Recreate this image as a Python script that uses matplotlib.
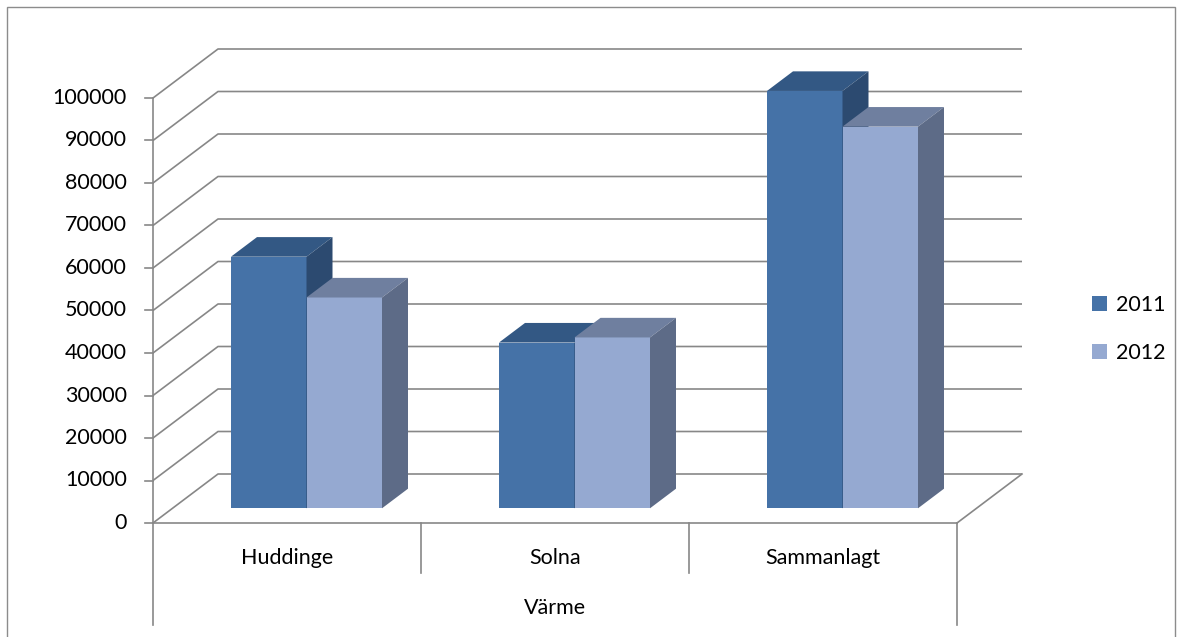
import matplotlib.pyplot as plt
from matplotlib.patches import Polygon, Rectangle

plt.rcParams['font.family'] = ['Lato', 'DejaVu Sans']

# data
categories = ['Huddinge', 'Solna', 'Sammanlagt']
group_label = 'Värme'
series = ['2011', '2012']
values_2011 = [59200, 39000, 98200]
values_2012 = [49600, 40200, 89800]
yticks = list(range(0, 100001, 10000))

W, H = 1182, 637
fig = plt.figure(figsize=(W / 100, H / 100), dpi=100)
fs = 15.5

# front floor: x 153..957 px, y 0 at 523 px, 100000 at 98 px
x0, x1, y0, y1 = 153, 957, 523, 98
ax = fig.add_axes([x0 / W, (H - y0) / H, (x1 - x0) / W, (y0 - y1) / H])
ax.set_xlim(0, 3)
ax.set_ylim(0, 100000)
ax.axis('off')

px_x = 3 / (x1 - x0)
px_y = 100000 / (y0 - y1)
dx, dy = 65 * px_x, 49 * px_y  # depth of the plot box

grid_c = '#878787'
lw = 1.2

# back wall gridlines with left-side diagonals
for v in yticks:
    ax.plot([0, dx, 3 + dx], [v, v + dy, v + dy], color=grid_c, lw=lw,
            clip_on=False, zorder=1, solid_capstyle='butt')
    ax.plot([-8 * px_x, 0], [v, v], color=grid_c, lw=lw, clip_on=False, zorder=1)
    ax.text(-26 * px_x, v, f'{v}', ha='right', va='center', fontsize=fs, color='black')

# floor right edge and axes
ax.plot([3, 3 + dx], [0, dy], color=grid_c, lw=lw, clip_on=False, zorder=1)
ax.plot([0, 3], [0, 0], color=grid_c, lw=lw, clip_on=False, zorder=1)
ax.plot([0, 0], [100000, -24000], color=grid_c, lw=lw, clip_on=False, zorder=1)
ax.plot([3, 3], [0, -24000], color=grid_c, lw=lw, clip_on=False, zorder=1)
for i in (1, 2):
    ax.plot([i, i], [0, -11800], color=grid_c, lw=lw, clip_on=False, zorder=1)
for i, c in enumerate(categories):
    ax.text(i + 0.5, -8300, c, ha='center', va='center', fontsize=fs)
ax.text(1.5, -20000, group_label, ha='center', va='center', fontsize=fs)

# bars
colors = {
    '2011': ('#4572A7', '#335884', '#2C4A70'),
    '2012': ('#95A9D1', '#6F7F9F', '#5D6B87'),
}
f0, fd = 0.3, 0.4
w = 75.5 * px_x
bx, by = f0 * dx, f0 * dy
ddx, ddy = fd * dx, fd * dy
z = 2
for i in range(len(categories)):
    for j, (name, vals) in enumerate(zip(series, [values_2011, values_2012])):
        v = vals[i]
        front, top, side = colors[name]
        xl = i + 0.5 - w + j * w + bx
        ax.add_patch(Polygon([(xl, by), (xl + w, by), (xl + w, by + v), (xl, by + v)],
                             closed=True, fc=front, ec='none', clip_on=False, zorder=z))
        ax.add_patch(Polygon([(xl, by + v), (xl + w, by + v), (xl + w + ddx, by + v + ddy),
                              (xl + ddx, by + v + ddy)],
                             closed=True, fc=top, ec='none', clip_on=False, zorder=z))
        ax.add_patch(Polygon([(xl + w, by), (xl + w + ddx, by + ddy),
                              (xl + w + ddx, by + v + ddy), (xl + w, by + v)],
                             closed=True, fc=side, ec='none', clip_on=False, zorder=z))
        z += 1

# legend
handles = [Rectangle((0, 0), 1, 1, fc=colors[s][0], ec='none') for s in series]
fig.legend(handles, series, loc='center left', bbox_to_anchor=(1073 / W, 1 - 329 / H),
           frameon=False, fontsize=fs, handlelength=0.7, handleheight=0.7,
           handletextpad=0.4, labelspacing=1.3)

# chart border (bottom edge lies below the picture)
fig.add_artist(Rectangle((7 / W, -10 / H), 1168 / W, 640 / H, transform=fig.transFigure,
                         fill=False, ec='#8c8c8c', lw=1.0))

fig.savefig('out.png', dpi=100)
